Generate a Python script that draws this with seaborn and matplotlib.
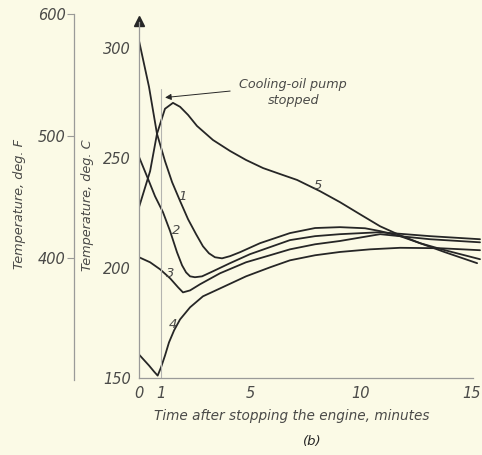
import numpy as np
import matplotlib
matplotlib.use("Agg")
import matplotlib.pyplot as plt
import seaborn as sns
import pandas as pd

# time after stopping the engine (min) and temperature (deg C)
t1 = [0, 0.45, 0.81, 1.17, 1.49, 1.85, 2.21, 2.57, 2.88, 3.15, 3.42, 3.74, 4.1, 4.55, 5.45,
      6.8, 7.93, 9.05, 10.18, 10.86, 11.76, 12.66, 13.78, 15.36]
T1 = [303.4, 282.4, 261, 248.6, 239, 230.4, 222.1, 215.3, 209.8, 206.6, 204.8, 204.3, 205.3, 207.1, 211.2,
      215.8, 218.1, 218.5, 218, 216.7, 214.4, 211.2, 208, 203.9]

t2 = [0, 0.41, 0.72, 1.08, 1.4, 1.71, 1.94, 2.12, 2.3, 2.52, 2.84, 3.33, 4.1, 5.0, 5.9,
      6.8, 7.93, 9.05, 10.86, 13.11, 15.36]
T2 = [250.5, 240.4, 232.6, 225.3, 216.7, 207.1, 201.1, 197.9, 196.1, 195.7, 196.1, 198.4, 202.1, 206.2, 209.4,
      212.6, 214.4, 215.3, 216.2, 214.4, 213]

t3 = [0, 0.5, 0.95, 1.4, 1.76, 1.98, 2.3, 2.75, 3.65, 4.82, 5.9, 6.8, 7.93, 9.05, 10.86, 13.11, 15.36]
T3 = [204.8, 202.5, 199.3, 195.2, 191.1, 188.8, 189.7, 192.5, 197.5, 202.5, 205.7, 208.4, 210.7, 212.2, 215.3, 213, 211.6]

t4 = [0, 0.45, 0.68, 0.84, 0.99, 1.17, 1.35, 1.58, 1.85, 2.3, 2.88, 3.65, 4.82, 5.9, 6.8,
      7.93, 9.05, 10.41, 11.76, 13.56, 15.36]
T4 = [160.5, 155.5, 152.7, 150.9, 154.6, 160, 166, 171.5, 176.5, 182, 187, 190.6, 196.1, 200.2, 203.4,
      205.7, 207.2, 208.4, 209.1, 208.9, 208]

t5 = [0, 0.5, 0.81, 1.17, 1.53, 1.85, 2.21, 2.61, 3.33, 4.1, 4.82, 5.59, 6.35, 7.12, 8.15,
      9.05, 9.95, 10.86, 11.76, 12.66, 13.78, 15.23]
T5 = [227.6, 244, 261, 272.4, 275.1, 273.3, 269.6, 264.6, 258.2, 253.2, 249.1, 245.4, 242.7, 240, 234.9,
      229.9, 224.4, 218.9, 214.8, 211.2, 207.1, 202.1]

curve_names = ["1", "2", "3", "4", "5"]
label_pos = [(1.94, 232.6), (1.69, 217.1), (1.42, 197.5), (1.52, 174), (8.08, 237.5)]

x_ticks = [0, 1, 5, 10, 15]
c_ticks = [150, 200, 250, 300]
f_ticks = [300, 400, 500, 600]
pump_stop_t = 1

bg = "#fbfae6"
ink = "#262626"
grey = "#9a9a98"
txt = "#4a4a48"

sns.set_theme(style="white", rc={"axes.facecolor": bg, "figure.facecolor": bg})
plt.rcParams["font.family"] = ["DejaVu Sans"]
plt.rcParams["font.style"] = "italic"

df = pd.concat([
    pd.DataFrame({"t": t, "T": T, "curve": name})
    for t, T, name in zip([t1, t2, t3, t4, t5], [T1, T2, T3, T4, T5], curve_names)
])

fig = plt.figure(figsize=(4.82, 4.55), dpi=100)
ax = fig.add_axes([0.2884, 0.1648, 0.7093, 0.8044])

sns.lineplot(data=df, x="t", y="T", hue="curve", palette=[ink] * 5, estimator=None,
             sort=False, legend=False, linewidth=1.3, ax=ax)

ax.set_xlim(0, 15.4)
ax.set_ylim(148.89, 315.56)
ax.set_xlabel("")
ax.set_ylabel("")

for s in ["top", "right"]:
    ax.spines[s].set_visible(False)
ax.spines["left"].set_bounds(150, 312)
ax.spines["left"].set_color(grey)
ax.spines["left"].set_linewidth(0.9)
ax.spines["bottom"].set_position(("data", 150))
ax.spines["bottom"].set_bounds(0, 15.05)
ax.spines["bottom"].set_color(grey)
ax.spines["bottom"].set_linewidth(0.9)

ax.set_xticks(x_ticks)
ax.set_xticklabels([str(v) for v in x_ticks])
ax.set_yticks(c_ticks)
ax.set_yticklabels([str(v) for v in c_ticks])
ax.tick_params(axis="y", direction="out", length=5, width=0.8, color=grey,
               labelcolor=txt, labelsize=10.5, pad=1)
ax.tick_params(axis="x", direction="in", length=4, width=0.8, color=grey,
               labelcolor=txt, labelsize=10.5, pad=6)

# Fahrenheit scale
sec = ax.secondary_yaxis(-0.19, functions=(lambda c: c * 9 / 5 + 32, lambda f: (f - 32) * 5 / 9))
sec.set_yticks(f_ticks)
sec.set_yticklabels([str(v) for v in f_ticks])
sec.spines["left"].set_bounds(300, 600)
sec.spines["left"].set_color(grey)
sec.spines["left"].set_linewidth(0.9)
sec.tick_params(axis="y", direction="out", length=5, width=0.8, color=grey,
                labelcolor=txt, labelsize=10.5, pad=1)

# arrow head on top of the deg C axis
ax.plot([0], [312.5], marker="^", ms=6.5, color=ink, clip_on=False)

# pump stop marker
ax.plot([pump_stop_t, pump_stop_t], [150, 281.5], color="#b4b4b0", lw=0.8)
ax.annotate("", xy=(pump_stop_t + 0.05, 277.4), xytext=(4.23, 280.6),
            arrowprops=dict(arrowstyle="-|>", color=ink, lw=0.7, mutation_scale=9))
ax.text(6.95, 279.8, "Cooling-oil pump\nstopped", ha="center", va="center",
        fontsize=9.2, color=txt, linespacing=1.35)

for name, (x, y) in zip(curve_names, label_pos):
    ax.text(x, y, name, ha="center", va="center", fontsize=9.5, color=txt)

fig.text(88 / 482, 1 - 205 / 455, "Temperature, deg. C", rotation=90,
         ha="center", va="center", fontsize=9.3, color=txt)
fig.text(20 / 482, 1 - 204 / 455, "Temperature, deg. F", rotation=90,
         ha="center", va="center", fontsize=9.3, color=txt)
fig.text(292 / 482, 1 - 416 / 455, "Time after stopping the engine, minutes",
         ha="center", va="center", fontsize=9.8, color=txt)
fig.text(312 / 482, 1 - 441 / 455, "(b)", ha="center", va="center",
         fontsize=9.5, color=ink)

fig.savefig("out.png", dpi=100, facecolor=bg)
